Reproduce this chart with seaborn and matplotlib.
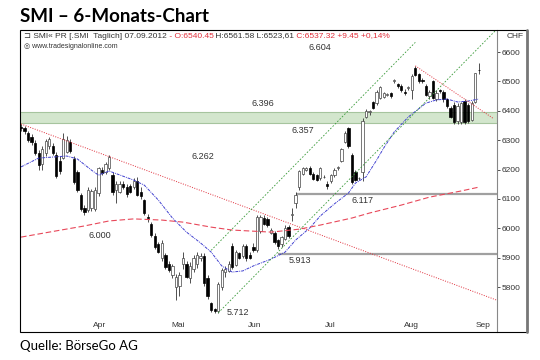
import numpy as np
import pandas as pd
import seaborn as sns
import matplotlib.pyplot as plt
from matplotlib.patches import Rectangle
from matplotlib.lines import Line2D

# SMI daily candles, mid March -> 07.09.2012
opens = [6345, 6340, 6325, 6310, 6290, 6258, 6220, 6255, 6280, 6280,
         6250, 6230, 6240, 6260, 6295, 6235, 6190, 6115, 6070, 6062,
         6070, 6065, 6120, 6200, 6190, 6205, 6180, 6130, 6125, 6150,
         6140, 6145, 6140, 6160, 6125, 6095, 6040, 6015, 5975, 5945,
         5900, 5910, 5880, 5840, 5800, 5805, 5880, 5880, 5830, 5860,
         5880, 5900, 5905, 5830, 5745, 5725, 5720, 5800, 5850, 5855,
         5940, 5875, 5915, 5905, 5940, 5910, 5935, 5925, 5990, 6035,
         6030, 5985, 5985, 5960, 5945, 5965, 6005, 6045, 6085, 6140,
         6185, 6200, 6205, 6185, 6180, 6170, 6175, 6150, 6160, 6180,
         6205, 6230, 6295, 6340, 6250, 6190, 6170, 6190, 6380, 6395,
         6430, 6428, 6445, 6448, 6455, 6460, 6502, 6490, 6485, 6465,
         6478, 6470, 6545, 6525, 6505, 6485, 6450, 6500, 6440, 6470,
         6465, 6440, 6410, 6420, 6365, 6362, 6435, 6420, 6370, 6430, 6540.45]
highs = [6355, 6348, 6330, 6320, 6300, 6265, 6280, 6305, 6312, 6290,
         6260, 6245, 6325, 6315, 6305, 6245, 6200, 6120, 6080, 6140,
         6135, 6140, 6210, 6210, 6225, 6250, 6190, 6160, 6160, 6160,
         6150, 6150, 6170, 6175, 6140, 6100, 6050, 6020, 5985, 5955,
         5960, 5915, 5890, 5880, 5845, 5850, 5920, 5890, 5885, 5910,
         5920, 5915, 5915, 5840, 5750, 5730, 5818, 5865, 5870, 5890,
         5950, 5925, 5920, 5945, 5948, 5920, 5950, 6045, 6045, 6045,
         6040, 6000, 5990, 5965, 5975, 6010, 6012, 6070, 6122, 6200,
         6210, 6210, 6212, 6190, 6185, 6210, 6180, 6160, 6185, 6205,
         6212, 6275, 6330, 6345, 6255, 6200, 6175, 6375, 6405, 6402,
         6435, 6470, 6485, 6465, 6462, 6465, 6508, 6495, 6490, 6475,
         6485, 6525, 6553, 6530, 6512, 6490, 6470, 6505, 6470, 6475,
         6470, 6445, 6415, 6430, 6425, 6430, 6440, 6425, 6432, 6530, 6561.58]
lows = [6330, 6320, 6295, 6285, 6250, 6200, 6200, 6245, 6270, 6250,
        6170, 6185, 6235, 6255, 6255, 6150, 6125, 6060, 6045, 6055,
        6060, 6060, 6110, 6180, 6185, 6200, 6115, 6085, 6120, 6135,
        6105, 6120, 6135, 6110, 6100, 6045, 6020, 5970, 5930, 5915,
        5890, 5860, 5850, 5830, 5755, 5770, 5860, 5830, 5815, 5850,
        5865, 5890, 5805, 5760, 5715, 5712, 5712, 5790, 5835, 5850,
        5860, 5870, 5895, 5900, 5890, 5895, 5920, 5918, 5985, 6010,
        6005, 5980, 5945, 5930, 5938, 5960, 5968, 6025, 6070, 6130,
        6180, 6195, 6180, 6165, 6160, 6165, 6170, 6135, 6155, 6175,
        6200, 6225, 6290, 6275, 6150, 6160, 6165, 6160, 6375, 6385,
        6405, 6420, 6440, 6445, 6450, 6445, 6495, 6478, 6465, 6455,
        6470, 6440, 6518, 6495, 6495, 6450, 6440, 6440, 6432, 6462,
        6430, 6410, 6375, 6355, 6355, 6355, 6355, 6358, 6365, 6425, 6523.61]
closes = [6340, 6330, 6300, 6295, 6258, 6215, 6270, 6298, 6305, 6258,
          6178, 6195, 6305, 6300, 6262, 6158, 6132, 6065, 6055, 6130,
          6128, 6132, 6205, 6188, 6218, 6242, 6122, 6150, 6152, 6140,
          6118, 6125, 6162, 6115, 6110, 6052, 6035, 5978, 5936, 5920,
          5950, 5868, 5858, 5872, 5835, 5840, 5900, 5835, 5870, 5900,
          5910, 5905, 5814, 5768, 5722, 5718, 5812, 5858, 5862, 5880,
          5868, 5918, 5900, 5940, 5898, 5900, 5925, 6038, 6040, 6015,
          6012, 5995, 5952, 5940, 5970, 6000, 5975, 6048, 6115, 6195,
          6205, 6205, 6185, 6168, 6165, 6205, 6176, 6145, 6180, 6200,
          6208, 6270, 6325, 6280, 6158, 6165, 6170, 6365, 6400, 6398,
          6410, 6465, 6480, 6460, 6458, 6450, 6505, 6485, 6470, 6462,
          6480, 6520, 6522, 6500, 6500, 6455, 6465, 6445, 6462, 6468,
          6440, 6415, 6378, 6362, 6415, 6425, 6362, 6365, 6428, 6528, 6537.32]

# short moving average (blue), sampled along the chart
ma_fast_day = [0, 5, 13, 16, 20, 22, 25, 32, 35, 39, 43, 47, 51, 54, 57, 60,
               63, 66, 71, 75, 78, 82, 85, 89, 93, 95, 98, 101, 103, 106,
               110, 115, 118, 121, 124, 127, 130]
ma_fast_val = [6209, 6239, 6246, 6236, 6198, 6181, 6195, 6164, 6147, 6096,
               6035, 5987, 5950, 5919, 5872, 5851, 5855, 5872, 5895, 5919,
               5960, 6001, 6042, 6083, 6120, 6154, 6175, 6232, 6273, 6328,
               6379, 6426, 6437, 6440, 6430, 6433, 6440]
# long moving average (red dashed)
ma_slow_day = [0, 8, 18, 25, 32, 40, 46, 54, 60, 71, 79, 85, 94, 99, 108, 116, 125, 130]
ma_slow_val = [5970, 5987, 6008, 6025, 6032, 6028, 6021, 6004, 5994, 5987,
               5997, 6011, 6035, 6052, 6079, 6106, 6127, 6140]

# trendlines (day, price) endpoints
trend_down_day, trend_down_val = [0, 135], [6355, 5756]
trend_aug_day, trend_aug_val = [112, 134], [6553, 6375]
chan_up_day, chan_up_val = [54, 112], [5925, 6633]
chan_low_day, chan_low_val = [56, 135], [5712, 6676]

# marked levels
band_low, band_high = 6357, 6396
level_6117, level_6117_from = 6117, 78
level_5913, level_5913_from = 5913, 73
level_labels = [6604, 6396, 6357, 6262, 6000, 6117, 5913, 5712]

months = ["Apr", "Mai", "Jun", "Jul", "Aug", "Sep"]
month_mid = [22.4, 44.6, 66.5, 87.8, 111, 131.2]
month_start = [12.2, 33.2, 54.5, 76.4, 98.6, 126.1]
price_ticks = [5800, 5900, 6000, 6100, 6200, 6300, 6400, 6500, 6600]

RED = "#e0303c"

sns.set_theme(style="white")
plt.rcParams['font.family'] = ['Liberation Sans', 'DejaVu Sans']

fig = plt.figure(figsize=(5.4, 3.6), dpi=100)
ax = fig.add_axes([20 / 540, 28 / 360, 477 / 540, 302 / 360])

df = pd.DataFrame({"o": opens, "h": highs, "l": lows, "c": closes})
df["day"] = np.arange(len(df))
up = df["c"] >= df["o"]

# support band + horizontal levels
ax.axhspan(band_low, band_high, color="#d3e6cd", zorder=1, lw=0)
for lv in (band_low, band_high):
    ax.axhline(lv, color="#a6c49e", lw=0.8, zorder=1)
ax.hlines(level_6117, level_6117_from, 136, color="#a0a0a0", lw=1.6, zorder=2)
ax.hlines(level_5913, level_5913_from, 136, color="#a0a0a0", lw=1.6, zorder=2)

# candles
ax.vlines(df["day"], df["l"], df["h"], color="#333333", lw=0.6, zorder=3)
ax.bar(df.loc[up, "day"], (df["c"] - df["o"])[up], bottom=df["o"][up], width=0.65,
       color="white", edgecolor="#444444", lw=0.5, zorder=4)
ax.bar(df.loc[~up, "day"], (df["o"] - df["c"])[~up], bottom=df["c"][~up], width=0.65,
       color="black", edgecolor="black", lw=0.5, zorder=4)

# moving averages
sns.lineplot(x=ma_fast_day, y=ma_fast_val, ax=ax, color="#4040d0", lw=0.7,
             linestyle=(0, (3, 1, 1, 1)), zorder=5)
sns.lineplot(x=ma_slow_day, y=ma_slow_val, ax=ax, color="#e8485a", lw=0.8,
             linestyle=(0, (5, 2.5)), zorder=5)

# trendlines
ax.plot(trend_down_day, trend_down_val, color=RED, lw=0.7, ls=(0, (1, 1.5)), zorder=5)
ax.plot(trend_aug_day, trend_aug_val, color=RED, lw=0.7, ls=(0, (1, 1.5)), zorder=5)
ax.plot(chan_up_day, chan_up_val, color="#3a9a3a", lw=0.6, ls=(0, (2, 2)), zorder=5)
ax.plot(chan_low_day, chan_low_val, color="#3a9a3a", lw=0.6, ls=(0, (2, 2)), zorder=5)

# level labels
label_day = [85, 68.8, 80, 51.7, 22.4, 96.9, 79.3, 61.6]
label_dy = [10, 30, -23, -16, -23, -21, -24, 0]
for d, v, dy in zip(label_day, level_labels, label_dy):
    ax.text(d, v + dy, f"{v / 1000:.3f}", ha="center", va="center",
            fontsize=6.5, color="#333333", zorder=6)

ax.set_xlim(-0.3, 135.2)
ax.set_ylim(5647, 6675)
ax.yaxis.tick_right()
ax.set_yticks(price_ticks)
ax.tick_params(axis="y", direction="out", length=2, pad=1, labelsize=6,
               colors="#333333", width=0.6)
ax.set_xticks(month_mid, months)
ax.set_xticks(month_start, minor=True)
ax.tick_params(axis="x", which="major", length=0, pad=-7, labelsize=6, colors="#333333")
ax.tick_params(axis="x", which="minor", length=1.5, direction="in", color="#555555")
ax.set_xlabel("")
ax.set_ylabel("")
for s in ("top", "left", "bottom"):
    ax.spines[s].set_visible(False)
ax.spines["right"].set_color("#888888")
ax.spines["right"].set_linewidth(0.8)

# header line inside the chart
segs = [(" - O:6540.45", RED), (" H:6561.58 L:6523,61", "#333333"),
        (" C:6537.32 +9.45 +0,14%", RED)]
t = ax.text(0.008, 0.98, "\u2290 SMI\u00ab PR [.SMI  Taglich] 07.09.2012",
            transform=ax.transAxes, fontsize=6, va="center", color="#333333")
for s, col in segs:
    t = ax.annotate(s, xy=(1, 0.5), xycoords=t, va="center", ha="left",
                    fontsize=6, color=col)
ax.text(0.008, 0.947, "\u25ce www.tradesignalonline.com", transform=ax.transAxes,
        fontsize=5, va="center", color="#333333")

# frame
fig.add_artist(Rectangle((20 / 540, 28 / 360), 507 / 540, 302 / 360,
                         transform=fig.transFigure, fill=False, ec="black", lw=0.8))
fig.add_artist(Line2D([527 / 540, 527 / 540], [28 / 360, 330 / 360],
                      transform=fig.transFigure, color="#777777", lw=2))
fig.text(507 / 540, 1 - 36 / 360, "CHF", fontsize=6, va="center", color="#333333")

fig.text(20 / 540, 1 - 16 / 360, "SMI \u2013 6-Monats-Chart", fontsize=13.5,
         fontweight="bold", family="Lato", va="center", color="black")
fig.text(20 / 540, 1 - 346 / 360, "Quelle: B\u00f6rseGo AG", fontsize=9.5,
         family="Lato", va="center", color="black")

fig.savefig("out.png", dpi=100)
